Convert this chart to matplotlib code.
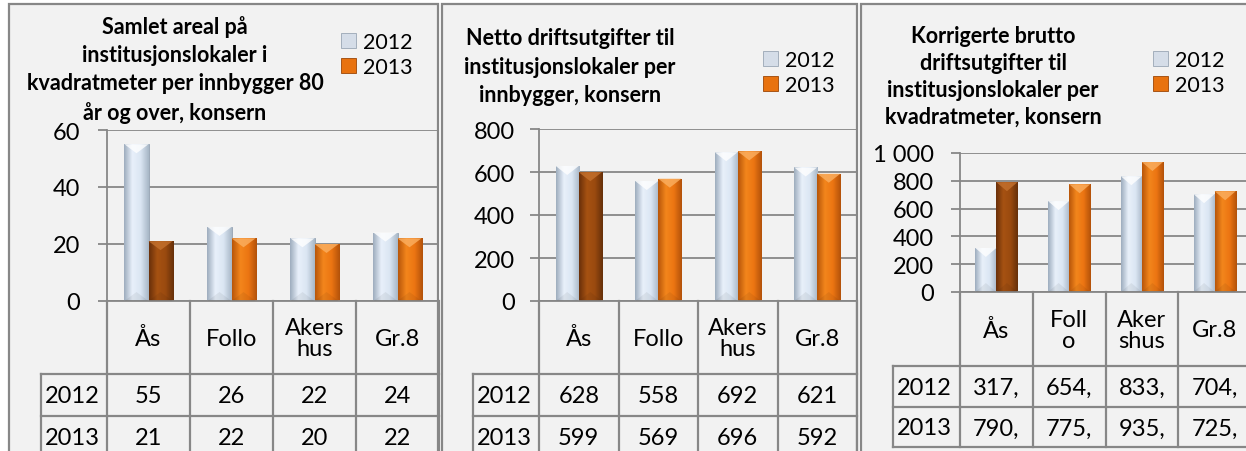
import numpy as np
import matplotlib
matplotlib.use('Agg')
import matplotlib.pyplot as plt
from matplotlib.patches import Rectangle, Polygon, Patch
from matplotlib.colors import LinearSegmentedColormap

plt.rcParams['font.family'] = ['Lato', 'DejaVu Sans']

W, H = 1246, 452

years = ['2012', '2013']
categories = ['Ås', 'Follo', 'Akers\nhus', 'Gr.8']
categories_narrow = ['Ås', 'Foll\no', 'Aker\nshus', 'Gr.8']

areal_2012 = [55, 26, 22, 24]
areal_2013 = [21, 22, 20, 22]
netto_2012 = [628, 558, 692, 621]
netto_2013 = [599, 569, 696, 592]
brutto_2012 = [317, 654, 833, 704]
brutto_2013 = [790, 775, 935, 725]

titles = [
    'Samlet areal på\ninstitusjonslokaler i\nkvadratmeter per innbygger 80\når og over, konsern',
    'Netto driftsutgifter til\ninstitusjonslokaler per\ninnbygger, konsern',
    'Korrigerte brutto\ndriftsutgifter til\ninstitusjonslokaler per\nkvadratmeter, konsern',
]

GRID = '#878787'
PANEL_BG = '#f2f2f2'

# bar shading: left edge -> highlight -> right edge
light_cmap = LinearSegmentedColormap.from_list('light', ['#9eadbe', '#e8f0fa', '#dbe6f3', '#a8b7c7'])
orange_cmap = LinearSegmentedColormap.from_list('orange', ['#b8560a', '#f3861c', '#ec7512', '#b3520a'])
brown_cmap = LinearSegmentedColormap.from_list('brown', ['#6a300a', '#a65212', '#9a4a0f', '#66300a'])

# layout in pixels: frame x-range, plot box (left, right, top, bottom), row-header x, table row lines
panels = [
    dict(frame=(9, 438), box=(107, 439, 131, 302), hdr=41, rows=(375, 417, 459),
         ymax=60, step=20, fmt='{:.0f}', title=(175, 70), lsp=1.42, legend=(341, 33), pad=13,
         cats=categories, s12=areal_2012, s13=areal_2013, vfmt='{}'),
    dict(frame=(442, 857), box=(539, 857, 130, 302), hdr=473, rows=(375, 417, 459),
         ymax=800, step=200, fmt='{:.0f}', title=(570, 67), lsp=1.45, legend=(763, 51), pad=11,
         cats=categories, s12=netto_2012, s13=netto_2013, vfmt='{}'),
    dict(frame=(861, 1290), box=(960, 1251, 154, 293), hdr=893, rows=(367, 408, 448),
         ymax=1000, step=200, fmt='{:,.0f}', title=(993, 77), lsp=1.35, legend=(1153, 51), pad=12,
         cats=categories_narrow, s12=brutto_2012, s13=brutto_2013, vfmt='{},'),
]

fig = plt.figure(figsize=(W / 100, H / 100), dpi=100)
fig.patch.set_facecolor('white')
bg = fig.add_axes([0, 0, 1, 1], zorder=0)
bg.set_xlim(0, W)
bg.set_ylim(H, 0)
bg.axis('off')


def shade_bar(ax, bar, cmap, depth, tip):
    x0, y0 = bar.get_x(), bar.get_y()
    w, h = bar.get_width(), bar.get_height()
    grad = np.linspace(0, 1, 64).reshape(1, -1)
    im = ax.imshow(grad, cmap=cmap, extent=(x0, x0 + w, y0, y0 + h),
                   aspect='auto', zorder=2, interpolation='bilinear')
    im.set_clip_path(bar)
    top = y0 + h
    ax.add_patch(Polygon([(x0, top), (x0 + w, top), (x0 + w / 2, top - depth)],
                         closed=True, facecolor=tip, alpha=0.8, lw=0, zorder=3))
    ax.add_patch(Polygon([(x0, y0), (x0 + w, y0), (x0 + w / 2, y0 + depth)],
                         closed=True, facecolor='black', alpha=0.06, lw=0, zorder=3))


for k, p in enumerate(panels):
    fx0, fx1 = p['frame']
    bg.add_patch(Rectangle((fx0, 5), fx1 - fx0, H, facecolor=PANEL_BG,
                           edgecolor=GRID, lw=1.6))

    left, right, top, bottom = p['box']
    ax = fig.add_axes([left / W, 1 - bottom / H, (right - left) / W, (bottom - top) / H],
                      zorder=1)
    ax.set_facecolor('none')
    x = np.arange(len(p['cats']))
    bw = 0.29
    b12 = ax.bar(x - bw / 2, p['s12'], bw, color='#dce6f2', edgecolor='#8f9eae', lw=0.6, zorder=2)
    b13 = ax.bar(x + bw / 2, p['s13'], bw, color='#ec7512', edgecolor='#a44c08', lw=0.6, zorder=2)
    depth = 9 * p['ymax'] / (bottom - top)
    for bar in b12:
        shade_bar(ax, bar, light_cmap, depth, '#ffffff')
    for i, bar in enumerate(b13):
        if i == 0:
            shade_bar(ax, bar, brown_cmap, depth, '#c4712e')
        else:
            shade_bar(ax, bar, orange_cmap, depth, '#fbb062')

    ax.set_xlim(-0.5, len(x) - 0.5)
    ax.set_ylim(0, p['ymax'])
    ticks = np.arange(0, p['ymax'] + 1, p['step'])
    ax.set_yticks(ticks)
    ax.set_yticklabels([p['fmt'].format(t).replace(',', ' ') for t in ticks])
    ax.set_xticks([])
    ax.yaxis.grid(True, color=GRID, lw=1.3, zorder=0)
    ax.set_axisbelow(True)
    for s in ['top', 'right']:
        ax.spines[s].set_visible(False)
    for s in ['left', 'bottom']:
        ax.spines[s].set_color(GRID)
        ax.spines[s].set_linewidth(1.3)
    ax.tick_params(axis='y', length=6.5, width=1.3, color=GRID, pad=p['pad'],
                   labelsize=17, labelcolor='black')

    # data table under the plot
    col_w = (right - left) / len(x)
    r1, r2, r3 = p['rows']
    for i in range(len(x) + 1):
        cx = left + i * col_w
        bg.plot([cx, cx], [bottom, r3], color=GRID, lw=1.6)
    bg.plot([p['hdr'], p['hdr']], [r1, r3], color=GRID, lw=1.6)
    for ry in (r1, r2, r3):
        bg.plot([p['hdr'], right], [ry, ry], color=GRID, lw=1.6)
    for i, lab in enumerate(p['cats']):
        cx = left + (i + 0.5) * col_w
        bg.text(cx, (bottom + r1) / 2 + 1, lab, ha='center', va='center',
                fontsize=17, linespacing=1.0)
        bg.text(cx, (r1 + r2) / 2 + 1, p['vfmt'].format(p['s12'][i]), ha='center',
                va='center', fontsize=17)
        bg.text(cx, (r2 + r3) / 2 + 1, p['vfmt'].format(p['s13'][i]), ha='center',
                va='center', fontsize=17)
    bg.text(p['hdr'] + 4, (r1 + r2) / 2 + 1, years[0], ha='left', va='center', fontsize=17)
    bg.text(p['hdr'] + 4, (r2 + r3) / 2 + 1, years[1], ha='left', va='center', fontsize=17)

    tx, ty = p['title']
    bg.text(tx, ty, titles[k], ha='center', va='center',
            fontsize=15.5, fontweight='bold', linespacing=p['lsp'])

    lx, ly = p['legend']
    ax.legend(handles=[Patch(facecolor='#d5dde8', edgecolor='#9aa6b4', lw=0.6),
                       Patch(facecolor='#e8720f', edgecolor='#9c4606', lw=0.6)],
              labels=years, loc='upper left', bbox_to_anchor=(lx / W, 1 - ly / H),
              bbox_transform=fig.transFigure, frameon=False, fontsize=15.5,
              handlelength=0.7, handleheight=0.7, handletextpad=0.3,
              labelspacing=0.25, borderpad=0, borderaxespad=0)

fig.savefig('out.png', dpi=100, facecolor=fig.get_facecolor())
